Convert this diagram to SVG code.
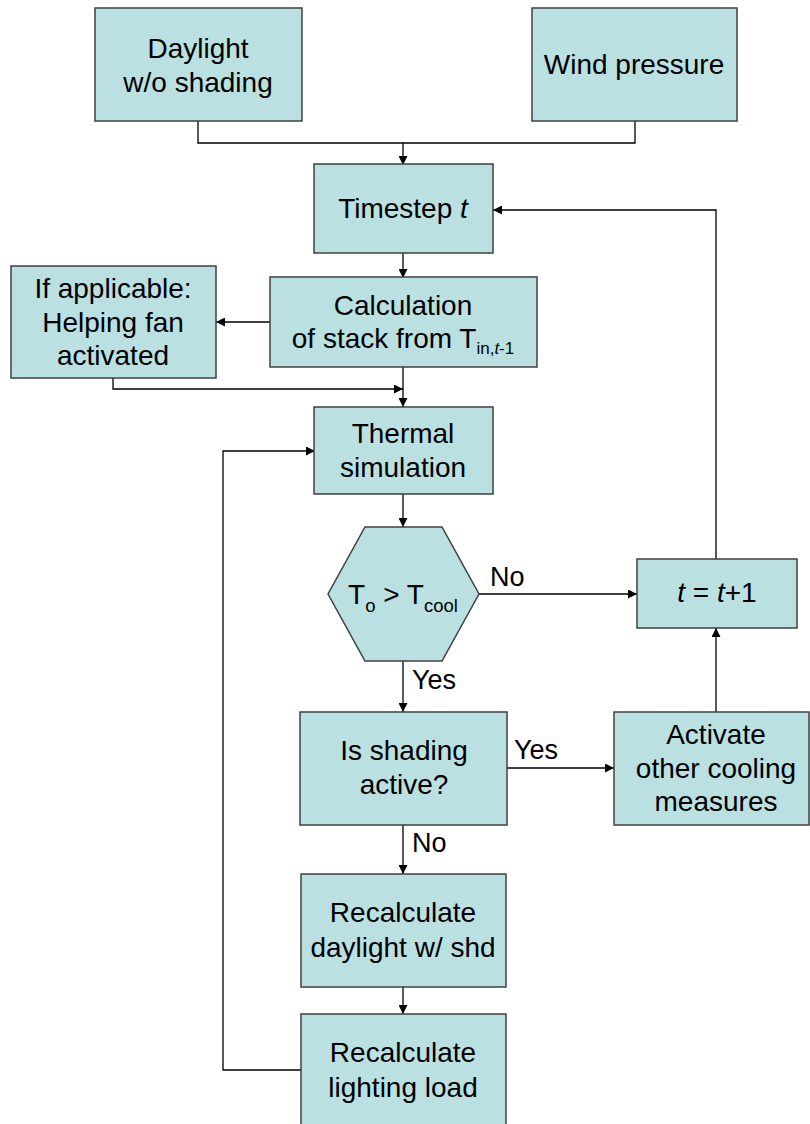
<svg xmlns="http://www.w3.org/2000/svg" width="810" height="1124" viewBox="0 0 810 1124">
<style>
.box{fill:#BAE0E2;stroke:#404040;stroke-width:1.5}
.t{font-family:"Liberation Sans",Arial,sans-serif;font-size:28px;fill:#000;text-anchor:middle}
.lbl{font-family:"Liberation Sans",Arial,sans-serif;font-size:27px;fill:#000}
.c{fill:none;stroke:#000;stroke-width:1.3}
</style>
<defs>
<marker id="ah" viewBox="0 0 10 10" refX="10" refY="5" markerWidth="9" markerHeight="9" markerUnits="userSpaceOnUse" orient="auto">
<path d="M0,0 L10,5 L0,10 z" fill="#000"/>
</marker>
</defs>
<rect width="810" height="1124" fill="#fff"/>
<g id="connectors">
<polyline class="c" points="198,121 198,143 635,143 635,121"/>
<line class="c" x1="403" y1="143" x2="403" y2="165" marker-end="url(#ah)"/>
<line class="c" x1="403" y1="253" x2="403" y2="278" marker-end="url(#ah)"/>
<line class="c" x1="270" y1="322" x2="216" y2="322" marker-end="url(#ah)"/>
<polyline class="c" points="113,378 113,389 403,389" marker-end="url(#ah)"/>
<line class="c" x1="403" y1="367" x2="403" y2="407" marker-end="url(#ah)"/>
<line class="c" x1="403" y1="494" x2="403" y2="527" marker-end="url(#ah)"/>
<line class="c" x1="479" y1="594" x2="637" y2="594" marker-end="url(#ah)"/>
<polyline class="c" points="716,559 716,210 493,210" marker-end="url(#ah)"/>
<line class="c" x1="403" y1="661" x2="403" y2="712" marker-end="url(#ah)"/>
<line class="c" x1="507" y1="768" x2="614" y2="768" marker-end="url(#ah)"/>
<line class="c" x1="716" y1="712" x2="716" y2="628" marker-end="url(#ah)"/>
<line class="c" x1="403" y1="825" x2="403" y2="874" marker-end="url(#ah)"/>
<line class="c" x1="403" y1="987" x2="403" y2="1014" marker-end="url(#ah)"/>
<polyline class="c" points="301,1070 223,1070 223,451 315,451" marker-end="url(#ah)"/>
</g>
<g id="labels">
<text class="lbl" x="490" y="586">No</text>
<text class="lbl" x="412" y="689">Yes</text>
<text class="lbl" x="514" y="759">Yes</text>
<text class="lbl" x="412" y="852">No</text>
</g>
<g id="daylight">
<rect class="box" x="95" y="8" width="207" height="113"/>
<text class="t" x="198" y="58">Daylight</text>
<text class="t" x="198" y="92">w/o shading</text>
</g>
<g id="wind">
<rect class="box" x="532" y="8" width="205" height="113"/>
<text class="t" x="634" y="74">Wind pressure</text>
</g>
<g id="timestep">
<rect class="box" x="314" y="164" width="179" height="89"/>
<text class="t" x="403" y="218">Timestep <tspan font-style="italic">t</tspan></text>
</g>
<g id="calc">
<rect class="box" x="270" y="277" width="267" height="90"/>
<text class="t" x="403" y="315">Calculation</text>
<text class="t" x="403" y="348">of stack from T<tspan font-size="17" dy="6">in,</tspan><tspan font-size="17" font-style="italic">t</tspan><tspan font-size="17">-1</tspan></text>
</g>
<g id="fan">
<rect class="box" x="11" y="266" width="205" height="112"/>
<text class="t" x="113" y="298">If applicable:</text>
<text class="t" x="113" y="332">Helping fan</text>
<text class="t" x="113" y="365">activated</text>
</g>
<g id="thermal">
<rect class="box" x="314" y="407" width="179" height="87"/>
<text class="t" x="403" y="443">Thermal</text>
<text class="t" x="403" y="477">simulation</text>
</g>
<g id="decision">
<polygon class="box" points="365,527 442,527 479,594 442,661 365,661 328,594"/>
<text class="t" x="403" y="604">T<tspan font-size="18.5" dy="8">o</tspan><tspan dy="-8"> &gt; T</tspan><tspan font-size="18.5" dy="8">cool</tspan></text>
</g>
<g id="increment">
<rect class="box" x="637" y="559" width="160" height="69"/>
<text class="t" x="717" y="602"><tspan font-style="italic">t</tspan> = <tspan font-style="italic">t</tspan>+1</text>
</g>
<g id="shading">
<rect class="box" x="300" y="712" width="207" height="113"/>
<text class="t" x="404" y="760">Is shading</text>
<text class="t" x="404" y="794">active?</text>
</g>
<g id="cooling">
<rect class="box" x="614" y="712" width="195" height="113"/>
<text class="t" x="716" y="744">Activate</text>
<text class="t" x="716" y="778">other cooling</text>
<text class="t" x="716" y="811">measures</text>
</g>
<g id="recalc-daylight">
<rect class="box" x="301" y="874" width="205" height="113"/>
<text class="t" x="403" y="922">Recalculate</text>
<text class="t" x="403" y="957">daylight w/ shd</text>
</g>
<g id="recalc-lighting">
<rect class="box" x="301" y="1014" width="205" height="114"/>
<text class="t" x="403" y="1062">Recalculate</text>
<text class="t" x="403" y="1097">lighting load</text>
</g>
</svg>
